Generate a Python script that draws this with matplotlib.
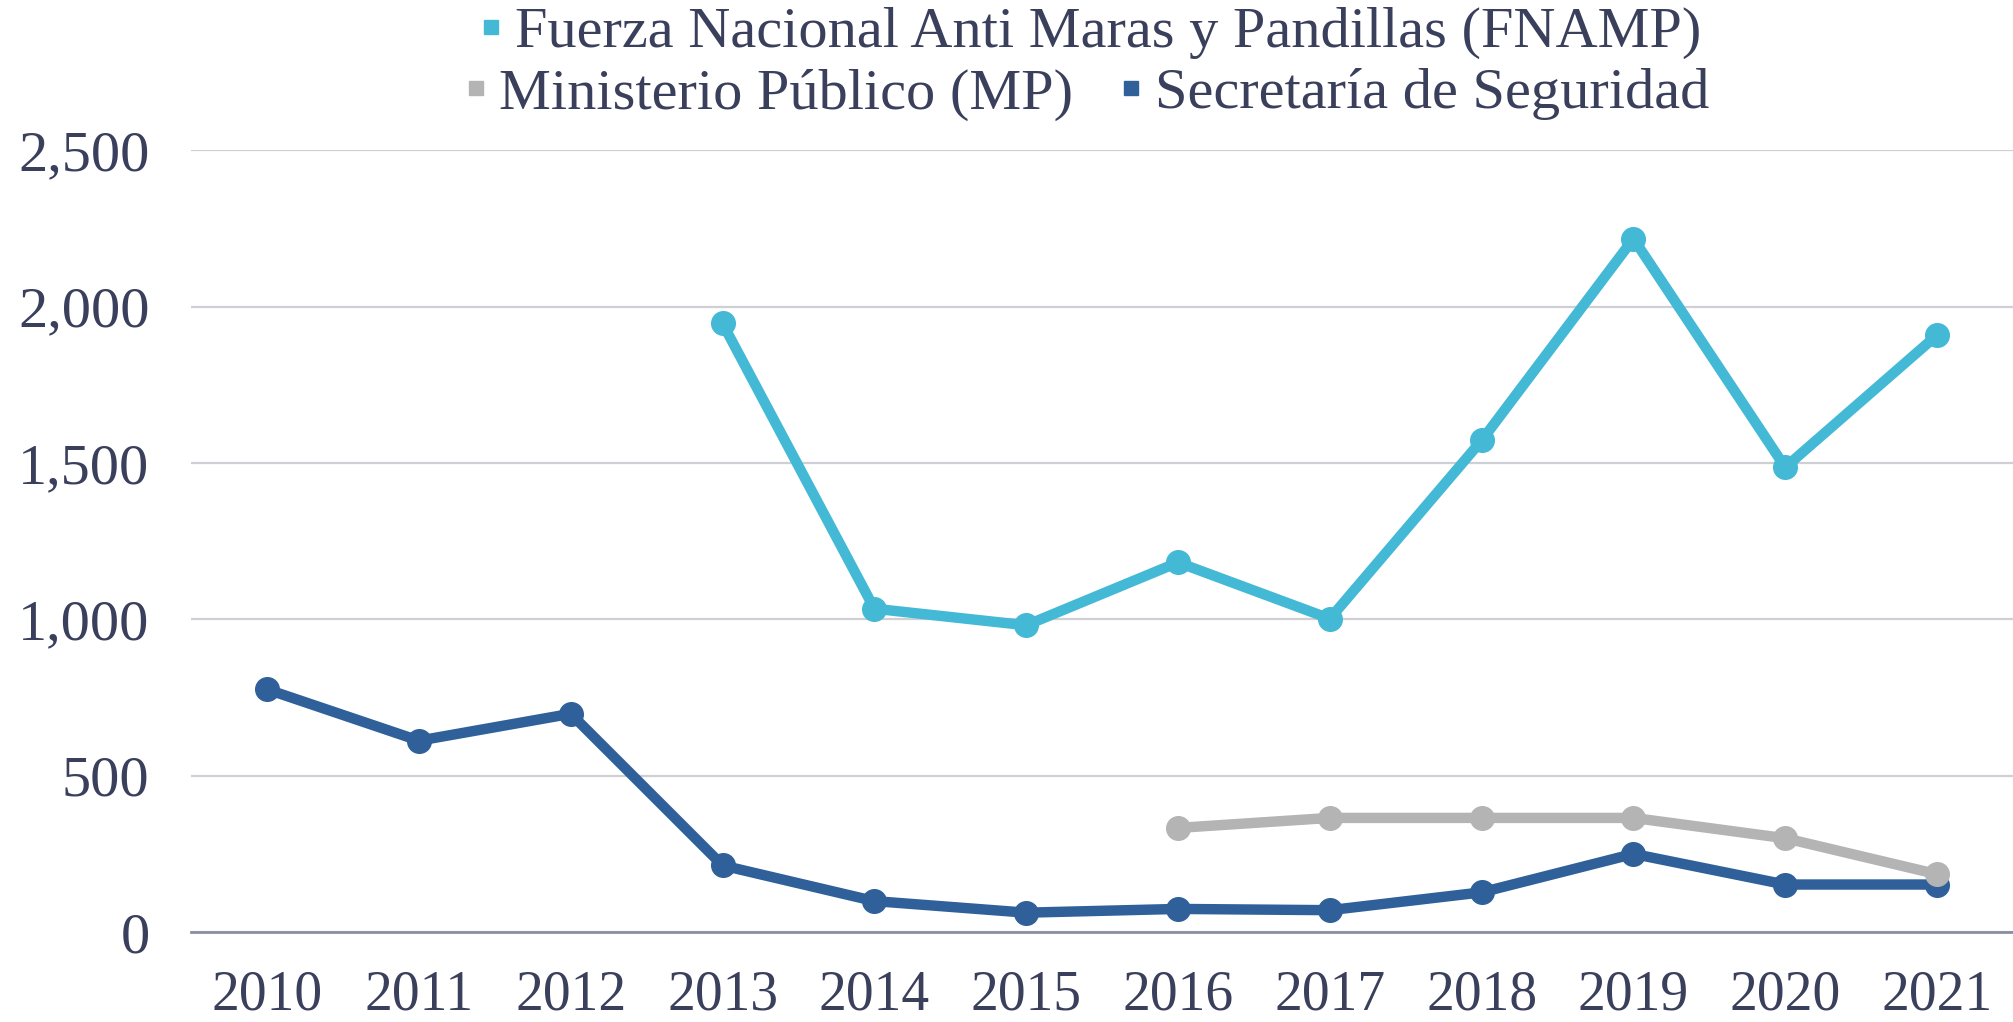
import matplotlib
matplotlib.use("Agg")
import matplotlib.pyplot as plt
from matplotlib.lines import Line2D
from matplotlib.ticker import FuncFormatter
import numpy as np

years = ["2010", "2011", "2012", "2013", "2014", "2015", "2016", "2017", "2018", "2019", "2020", "2021"]
fnamp = [np.nan, np.nan, np.nan, 1946, 1034, 981, 1182, 1002, 1572, 2217, 1486, 1909]
mp = [np.nan] * 6 + [333, 365, 365, 365, 300, 185]
secretaria = [776, 612, 698, 213, 99, 62, 74, 70, 127, 250, 152, 152]

names = ["Fuerza Nacional Anti Maras y Pandillas (FNAMP)", "Ministerio Público (MP)", "Secretaría de Seguridad"]
colors = ["#43B9D6", "#B4B4B4", "#2F6099"]
text_color = "#3A3F5C"

plt.rcParams["font.family"] = ["Liberation Serif", "DejaVu Serif"]

fig = plt.figure(figsize=(20.13, 10.22), dpi=100)
ax = fig.add_axes([0.095, 0.088, 0.905, 0.765])

x = np.arange(len(years))
for vals, c in [(secretaria, colors[2]), (mp, colors[1]), (fnamp, colors[0])]:
    ax.plot(x, vals, color=c, lw=7.5, marker="o", ms=17, solid_capstyle="round",
            solid_joinstyle="round", zorder=3)

ax.set_xlim(-0.5, len(years) - 0.5)
ax.set_ylim(0, 2500)
ax.set_yticks(np.arange(0, 2501, 500))
ax.yaxis.set_major_formatter(FuncFormatter(lambda v, p: f"{int(v):,}"))
ax.set_xticks(x)
ax.set_xticklabels(years)
ax.grid(axis="y", color="#CFCFD6", lw=1.6)
ax.set_axisbelow(True)
for s in ["top", "right", "left"]:
    ax.spines[s].set_visible(False)
ax.spines["bottom"].set_color("#8A8FA0")
ax.spines["bottom"].set_linewidth(2)
ax.tick_params(axis="y", length=0, labelsize=42, labelcolor=text_color, pad=30)
ax.tick_params(axis="x", length=0, labelsize=40, labelcolor=text_color, pad=27)

def handle(c):
    return Line2D([], [], color=c, marker="s", linestyle="none", markersize=10)

leg1 = fig.legend([handle(colors[0])], [names[0]], loc="center", bbox_to_anchor=(0.541, 0.968),
                  frameon=False, fontsize=42, labelcolor=text_color, handletextpad=0.15,
                  borderpad=0, handlelength=0.5)
leg2 = fig.legend([handle(colors[1]), handle(colors[2])], names[1:], loc="center",
                  bbox_to_anchor=(0.539, 0.908), ncol=2, frameon=False, fontsize=42,
                  labelcolor=text_color, handletextpad=0.15, columnspacing=0.75,
                  borderpad=0, handlelength=0.5)

fig.savefig("out.png", dpi=100)
